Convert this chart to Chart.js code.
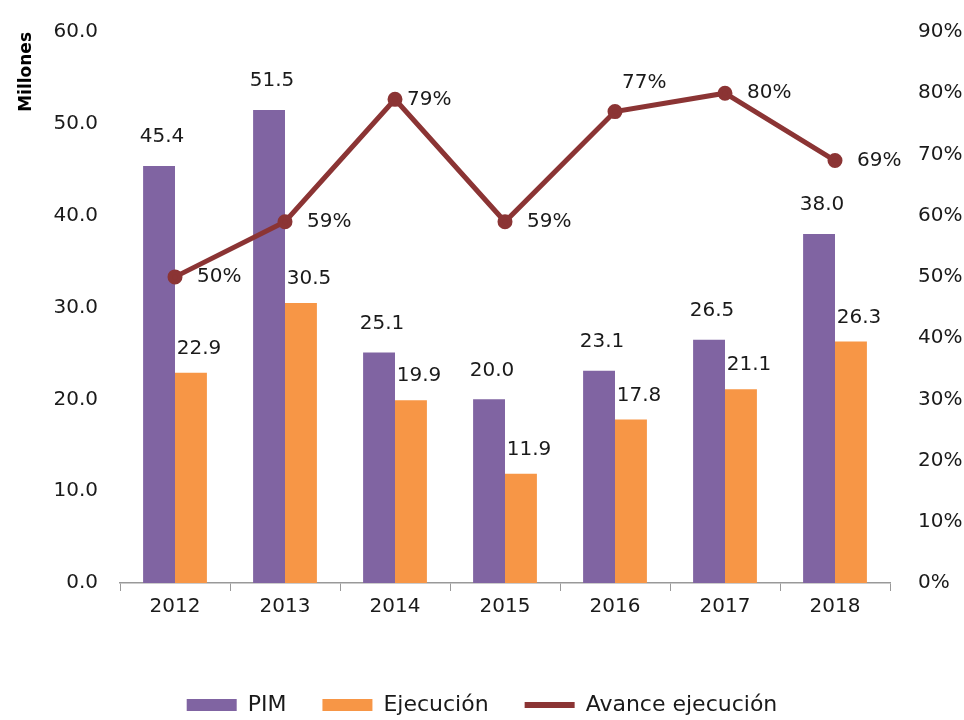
<!DOCTYPE html>
<html>
<head>
<meta charset="utf-8">
<script src="https://cdn.jsdelivr.net/npm/chart.js@4/dist/chart.umd.min.js"></script>
<style>
    html, body { margin: 0; padding: 0; background: #fff; }
    #wrap { width: 964px; height: 720px; }
</style>
</head>
<body>
<div id="wrap"><canvas id="myChart" width="964" height="720"></canvas></div>
<script>
// datos
const years = ["2012", "2013", "2014", "2015", "2016", "2017", "2018"];
const pim = [45.4, 51.5, 25.1, 20.0, 23.1, 26.5, 38.0];
const ejecucion = [22.9, 30.5, 19.9, 11.9, 17.8, 21.1, 26.3];
const avance = [50, 59, 79, 59, 77, 80, 69];

const leftTicks = [0, 10, 20, 30, 40, 50, 60];
const rightTicks = [0, 10, 20, 30, 40, 50, 60, 70, 80, 90];

const purple = "#8064a2";
const orange = "#f79646";
const lineColor = "#8b3434";
const fontFamily = "'DejaVu Sans', sans-serif";
const textColor = "#1a1a1a";

// etiquetas de valores (sin plugin datalabels)
const valueLabels = {
    id: "valueLabels",
    afterDatasetsDraw(chart) {
        const ctx = chart.ctx;
        ctx.save();
        ctx.font = "20px " + fontFamily;
        ctx.fillStyle = textColor;
        ctx.textBaseline = "middle";
        chart.data.datasets.forEach(function (ds, di) {
            const meta = chart.getDatasetMeta(di);
            meta.data.forEach(function (el, i) {
                const v = ds.data[i];
                if (ds.type === "line") {
                    ctx.textAlign = "left";
                    let dx = 22;
                    let dy = 0;
                    if (i == 2) { dx = 12; }
                    if (i == 4) { dx = 7; dy = -29; }
                    ctx.fillText(v + "%", el.x + dx, el.y + dy);
                } else if (di == 1) {
                    ctx.textAlign = "center";
                    ctx.fillText(v.toFixed(1), el.x + 3, el.y - 29);
                } else {
                    ctx.textAlign = "center";
                    ctx.fillText(v.toFixed(1), el.x + 8, el.y - 24);
                }
            });
        });
        ctx.restore();
    },
};

new Chart(document.getElementById("myChart"), {
    data: {
        labels: years,
        datasets: [
            {
                type: "line",
                label: "Avance ejecución",
                data: avance,
                yAxisID: "y1",
                borderColor: lineColor,
                backgroundColor: lineColor,
                borderWidth: 5,
                pointRadius: 5,
                pointHoverRadius: 5,
                pointBackgroundColor: lineColor,
                pointBorderColor: lineColor,
                tension: 0,
                order: 0,
            },
            {
                type: "bar",
                label: "PIM",
                data: pim,
                yAxisID: "y",
                backgroundColor: purple,
                borderWidth: 0,
                barPercentage: 1,
                categoryPercentage: 0.58,
                order: 1,
            },
            {
                type: "bar",
                label: "Ejecución",
                data: ejecucion,
                yAxisID: "y",
                backgroundColor: orange,
                borderWidth: 0,
                barPercentage: 1,
                categoryPercentage: 0.58,
                order: 1,
            },
        ],
    },
    options: {
        responsive: false,
        animation: false,
        layout: {
            padding: { left: 0, right: 0, top: 4, bottom: -6 },
        },
        plugins: {
            tooltip: { enabled: false },
            legend: {
                position: "bottom",
                labels: {
                    font: { family: fontFamily, size: 22 },
                    color: textColor,
                    usePointStyle: true,
                    pointStyleWidth: 50,
                    boxHeight: 12,
                    padding: 36,
                    generateLabels: function (chart) {
                        const items = Chart.defaults.plugins.legend.labels.generateLabels(chart);
                        items.forEach(function (it) {
                            if (it.datasetIndex == 0) {
                                it.pointStyle = "line";
                                it.lineWidth = 6;
                                it.strokeStyle = lineColor;
                            } else {
                                it.pointStyle = "rect";
                                it.lineWidth = 0;
                            }
                        });
                        // barras primero, luego la linea
                        return items.slice(1).concat(items.slice(0, 1));
                    },
                },
            },
        },
        scales: {
            x: {
                offset: true,
                afterFit: function (scale) {
                    scale.height = scale.height + 35;
                },
                grid: {
                    display: true,
                    offset: true,
                    drawOnChartArea: false,
                    drawTicks: true,
                    tickLength: 8,
                    color: "#999",
                },
                border: { color: "#999", width: 1.5 },
                ticks: {
                    font: { family: fontFamily, size: 20 },
                    color: textColor,
                    padding: 4,
                },
            },
            y: {
                position: "left",
                min: 0,
                max: 60,
                afterBuildTicks: function (axis) {
                    axis.ticks = leftTicks.map(function (v) { return { value: v }; });
                },
                afterFit: function (scale) {
                    scale.width = 120;
                },
                grid: { display: false },
                border: { display: false },
                ticks: {
                    font: { family: fontFamily, size: 20 },
                    color: textColor,
                    padding: 14,
                    callback: function (v) { return Number(v).toFixed(1); },
                },
                title: {
                    display: true,
                    text: "Millones",
                    align: "end",
                    font: { family: fontFamily, size: 17, weight: "bold" },
                    color: "#000",
                    padding: { top: 16, bottom: 0 },
                },
            },
            y1: {
                position: "right",
                min: 0,
                max: 90,
                afterBuildTicks: function (axis) {
                    axis.ticks = rightTicks.map(function (v) { return { value: v }; });
                },
                afterFit: function (scale) {
                    scale.width = 74;
                },
                grid: { display: false },
                border: { display: false },
                ticks: {
                    font: { family: fontFamily, size: 20 },
                    color: textColor,
                    padding: 20,
                    callback: function (v) { return v + "%"; },
                },
            },
        },
    },
    plugins: [valueLabels],
});
</script>
</body>
</html>
